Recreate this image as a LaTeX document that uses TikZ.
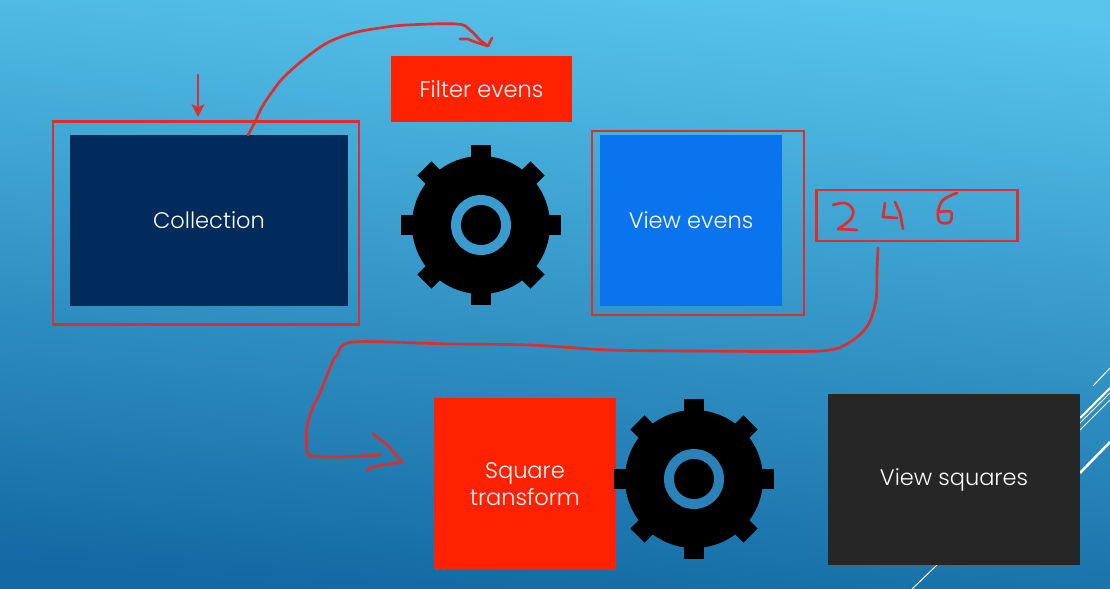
\documentclass[tikz,border=0pt]{standalone}
\usepackage{fontspec}
\setmainfont{Poppins}[UprightFont=* Light]
\usepackage{tikz}
\usetikzlibrary{arrows.meta}

\definecolor{inkred}{HTML}{DC2E2C}
\definecolor{slidered}{HTML}{FF2200}
\definecolor{navy}{HTML}{002B5B}
\definecolor{viewblue}{HTML}{0A74EE}
\definecolor{charcoal}{HTML}{262626}
\definecolor{skytop}{HTML}{57C4EC}
\definecolor{skymid}{HTML}{3797CA}
\definecolor{skylow}{HTML}{1369A3}

\tikzset{
	slidebox/.style={draw=none, minimum width=#1, inner sep=0pt, text=white, align=center, font=\fontsize{16}{19.5}\selectfont},
	frame/.style={draw=inkred, line width=1.9pt},
	ink/.style={draw=inkred, line width=1.9pt, line cap=round, line join=round},
	wire/.style={draw=white, line cap=butt}
}

\begin{document}
\begin{tikzpicture}[x=0.025cm, y=-0.025cm]
\useasboundingbox (0,0) rectangle (1110,589);
\shade [shading=axis, top color=skytop, middle color=skymid, bottom color=skylow, shading angle=-5] (0,0) rectangle (1110,589);

% corner lines
\draw [wire, line width=0.7pt] (1093,386) -- (1110,368);
\draw [wire, line width=1.5pt] (1080,418) -- (1110,388);
\draw [wire, line width=0.7pt] (1080,423) -- (1110,393);
\draw [wire, line width=0.7pt] (1080,430) -- (1110,400);
\draw [wire, line width=1.8pt] (1080,473) -- (1110,442);
\draw [wire, line width=0.7pt] (912,589) -- (937,565);

% slide boxes
\node (collection) [slidebox=198pt, minimum height=121.6pt, fill=navy] at (209,220.5) {Collection};
\node (filter) [slidebox=128.7pt, minimum height=46.9pt, fill=slidered] at (481.5,89) {Filter evens};
\node (viewevens) [slidebox=129.4pt, minimum height=121.6pt, fill=viewblue] at (691,220.5) {View evens};
\node (square) [slidebox=129.4pt, minimum height=122.3pt, fill=slidered] at (525,484) {Square\\transform};
\node (viewsquares) [slidebox=179.2pt, minimum height=121.6pt, fill=charcoal] at (954,479.5) {View squares};

% gears
\foreach \cx/\cy/\ring in {481/225/3A9BCF, 694/479/2A82B8} {
	\definecolor{ringblue}{HTML}{\ring}
	\fill [black] (\cx,\cy) circle (69);
	\foreach \angle in {0,45,...,315}
		\fill [black, shift={(\cx,\cy)}, rotate=\angle] (60,-10) rectangle (80,10);
	\fill [ringblue] (\cx,\cy) circle (30);
	\fill [black] (\cx,\cy) circle (20);
}

% hand drawn frames
\node (collectionframe) [frame, minimum width=217.6pt, minimum height=144pt, inner sep=0pt] at (206,223) {};
\node (viewframe) [frame, minimum width=150.8pt, minimum height=130.8pt, inner sep=0pt] at (698,223) {};
\node (numberframe) [frame, minimum width=142.8pt, minimum height=36.4pt, inner sep=0pt] at (917,215.5) {};

\coordinate (marktop) at (198,75);
\coordinate (marktip) at (198,117);
\coordinate (filterstart) at (248,135);
\coordinate (filterend) at (488,46);
\coordinate (squarestart) at (878,248);
\coordinate (squareend) at (402,462);

\draw [ink, -{Stealth[length=9pt, width=9pt, inset=2pt]}] (marktop) -- (marktip);
\draw [ink] plot [smooth, tension=0.6] coordinates {(filterstart) (255,122) (262,107) (272,92) (283,78) (303,60) (327,43) (353,33) (380,28) (407,25) (457,24) (470,30) (480,40) (filterend)};
\draw [ink] (492,38) -- (filterend) -- (475,42) -- (468,39) -- (460,39);
\draw [ink] plot [smooth, tension=0.5] coordinates {(squarestart) (877,270) (876,300) (868,325) (850,342) (820,351) (700,351) (610,350) (530,345) (450,344) (353,342) (337,355) (332,363) (320,393) (313,407) (307,427) (307,450) (312,456) (340,457) (380,455)};
\draw [ink] plot [smooth, tension=0.5] coordinates {(373,434) (387,445) (squareend)};
\draw [ink] plot [smooth, tension=0.5] coordinates {(squareend) (373,467) (367,471)};

% numbers
\draw [ink] plot [smooth, tension=0.6] coordinates {(833,205) (845,203) (853,210) (850,220) (838,229)};
\draw [ink] (838,229) -- (857,230);
\draw [ink] (885,203) -- (883,217) -- (897,218);
\draw [ink] (895,202) -- (900,213) -- (903,229);
\draw [ink] plot [smooth, tension=0.6] coordinates {(957,193) (943,200) (938,212) (940,222) (950,222) (951,212) (940,212)};
\end{tikzpicture}
\end{document}
